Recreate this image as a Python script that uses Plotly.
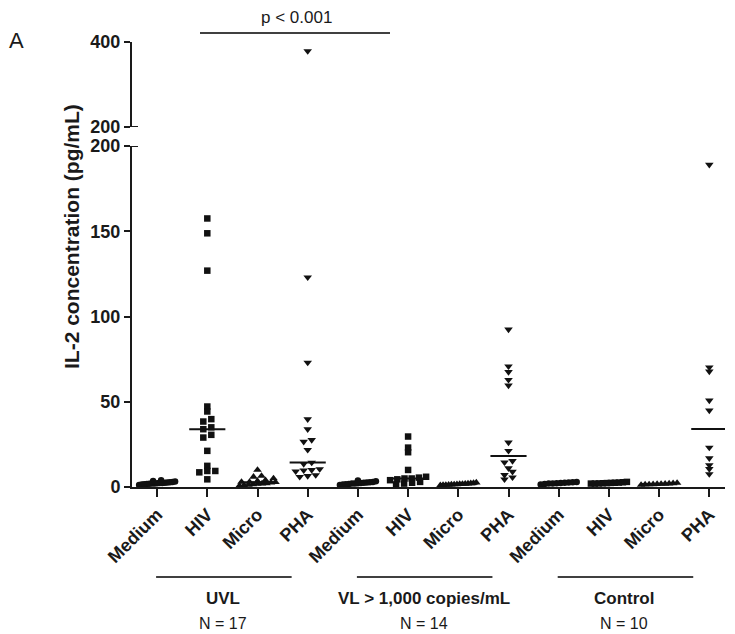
import numpy as np
import plotly.graph_objects as go

# ---------------- data ----------------
categories = ["Medium", "HIV", "Micro", "PHA"] * 3
groups = ["UVL", "VL > 1,000 copies/mL", "Control"]
group_n = ["N = 17", "N = 14", "N = 10"]

uvl_medium = [1.2, 1.5, 1.8, 2.0, 2.1, 2.3, 2.5, 2.6, 2.8, 3.0, 1.6, 1.9, 2.2, 2.4, 3.2, 3.5, 4.0]
uvl_hiv = [157.5, 148.8, 126.9, 47.2, 44.3, 39.8, 38.4, 35.0, 33.9, 30.6, 29.0, 21.2, 12.4, 9.4, 9.4, 8.6, 4.5]
uvl_micro = [10.0, 6.5, 6.0, 5.0, 4.0, 3.5, 3.0, 3.0, 2.8, 2.5, 2.2, 2.0, 1.8, 1.5, 1.2, 1.0, 0.8]
uvl_pha = [378.8, 123.0, 73.0, 39.8, 33.9, 27.6, 26.6, 21.8, 14.3, 13.5, 10.5, 10.0, 9.8, 9.2, 7.0, 6.5, 6.0]

vl_medium = [1.2, 1.5, 1.8, 2.0, 2.2, 2.4, 2.6, 2.8, 3.0, 3.3, 1.6, 2.1, 2.5, 3.8]
vl_hiv = [29.6, 23.1, 20.4, 10.0, 6.0, 5.5, 5.0, 5.0, 4.5, 4.0, 3.0, 2.5, 2.0, 1.5]
vl_micro = [1.0, 1.2, 1.4, 1.5, 1.6, 1.8, 2.0, 2.2, 1.3, 1.7, 1.9, 2.4, 1.1, 2.6]
vl_pha = [92.4, 70.8, 67.5, 62.9, 59.6, 26.1, 21.2, 15.3, 14.5, 11.0, 9.0, 7.1, 5.7, 4.5]

ctrl_medium = [1.5, 1.8, 2.0, 2.2, 2.4, 2.6, 2.8, 3.0, 2.0, 2.5]
ctrl_hiv = [2.0, 2.0, 2.2, 2.4, 2.6, 2.8, 3.0, 2.5, 2.3, 2.1]
ctrl_micro = [1.2, 1.5, 1.7, 1.9, 2.0, 2.2, 1.8, 1.6, 2.4, 1.4]
ctrl_pha = [189.0, 70.2, 67.8, 50.8, 44.9, 23.1, 16.9, 12.9, 10.6, 7.6]

series = [uvl_medium, uvl_hiv, uvl_micro, uvl_pha,
          vl_medium, vl_hiv, vl_micro, vl_pha,
          ctrl_medium, ctrl_hiv, ctrl_micro, ctrl_pha]

lower_ticks = [0, 50, 100, 150, 200]
upper_ticks = [200, 400]
BREAK = 200
p_text = "p < 0.001"

# ---------------- geometry helpers ----------------
OFF = 8                      # default page body margin
W, H = 735 - OFF, 634 - OFF
ML = 132 - OFF
MT = 42 - OFF
PW = 725 - 132
PH = 487 - 42
MR = W - ML - PW
MB = H - MT - PH
X0 = -0.5
px_per_x = 50.2
X1 = X0 + PW / px_per_x
lower_dom = [0, 341 / PH]
upper_dom = [360 / PH, 1]
px_per_y_low = lower_dom[1] * PH / 200.0
px_per_y_up = (upper_dom[1] - upper_dom[0]) * PH / 200.0

symbols = {"Medium": "circle", "HIV": "square", "Micro": "triangle-up", "PHA": "triangle-down"}
msize = {"Medium": 6.5, "HIV": 6.5, "Micro": 7.5, "PHA": 7.5}

FONT = "Liberation Sans, Arial, sans-serif"
INK = "#1a1a1a"


def to_px(v):
    if v <= BREAK:
        return v * px_per_y_low
    return upper_dom[0] * PH + (v - BREAK) * px_per_y_up


def swarm(vals, bin_h=3.6, gap=8.0, max_w=36.0):
    """Column-scatter layout: points of similar height are spread side by side."""
    order = np.argsort(vals)
    ypx = np.array([to_px(v) for v in vals])
    offs = np.zeros(len(vals))
    bins, cur = [], [order[0]]
    for i in order[1:]:
        if ypx[i] - ypx[cur[0]] <= bin_h:
            cur.append(i)
        else:
            bins.append(cur)
            cur = [i]
    bins.append(cur)
    for b in bins:
        n = len(b)
        if n == 1:
            continue
        sp = min(gap, max_w / (n - 1))
        for j, i in enumerate(b):
            offs[i] = (j - (n - 1) / 2) * sp
    return offs / px_per_x


fig = go.Figure()

med_x, med_y = [], []
for idx, vals in enumerate(series):
    vals = np.array(vals, dtype=float)
    cat = categories[idx]
    xs = idx + swarm(vals)
    low = vals <= BREAK
    mk = dict(symbol=symbols[cat], size=msize[cat], color="#111111", line=dict(width=0))
    fig.add_trace(go.Scatter(x=xs[low], y=vals[low], mode="markers", marker=mk,
                             cliponaxis=False, xaxis="x", yaxis="y", hoverinfo="y"))
    if (~low).any():
        fig.add_trace(go.Scatter(x=xs[~low], y=vals[~low], mode="markers", marker=mk,
                                 cliponaxis=False, xaxis="x", yaxis="y2", hoverinfo="y"))
    m = float(np.median(vals))
    med_x += [idx - 0.36, idx + 0.36, None]
    med_y += [m, m, None]

fig.add_trace(go.Scatter(x=med_x, y=med_y, mode="lines", line=dict(color="#111111", width=2),
                         cliponaxis=False, xaxis="x", yaxis="y", hoverinfo="skip"))

bold = dict(family=FONT, size=18, color=INK, weight="bold")
axis_common = dict(showline=True, linewidth=2, linecolor=INK, ticks="outside",
                   tickwidth=2, tickcolor=INK, showgrid=False, zeroline=False)

fig.update_layout(
    width=W, height=H,
    margin=dict(l=ML, r=MR, t=MT, b=MB, pad=0),
    plot_bgcolor="white", paper_bgcolor="white",
    showlegend=False,
    xaxis=dict(range=[X0, X1], tickvals=list(range(12)), ticktext=categories,
               tickangle=-45, ticklen=8, tickfont=bold, anchor="y", **axis_common),
    yaxis=dict(domain=lower_dom, range=[0, 200], tickvals=lower_ticks, ticklen=6,
               tickfont=bold, anchor="x", **axis_common),
    yaxis2=dict(domain=upper_dom, range=[200, 400], tickvals=upper_ticks, ticklen=6,
                tickfont=bold, anchor="x", **axis_common),
)

# break marks (ticks extending to the right at the break)
tick_frac = 6 / PW
for yref in ["y", "y2"]:
    fig.add_shape(type="line", xref="paper", yref=yref, x0=0, x1=tick_frac, y0=BREAK, y1=BREAK,
                  line=dict(color=INK, width=2))


def ypaper(py):
    return (487 - py) / PH


def xpaper(px):
    return (px - 132) / PW


def note(text, x, y, xref="paper", font=None, angle=0):
    fig.add_annotation(text=text, xref=xref, yref="paper", x=x, y=y, showarrow=False,
                       xanchor="center", yanchor="middle", textangle=angle, font=font)


# p-value bracket
fig.add_shape(type="line", xref="paper", yref="paper", x0=xpaper(200), x1=xpaper(390),
              y0=ypaper(33), y1=ypaper(33), line=dict(color="#000000", width=1.3))
note(p_text, xpaper(296), ypaper(18), font=dict(family=FONT, size=17, color=INK))

# group lines and labels
for g in range(3):
    s = 4 * g
    fig.add_shape(type="line", xref="x", yref="paper", x0=s - 0.02, x1=s + 2.68,
                  y0=ypaper(577), y1=ypaper(577), line=dict(color="#000000", width=1.3))
    note(groups[g], s + 1.31, ypaper(598), xref="x", font=dict(bold, size=17))
    note(group_n[g], s + 1.31, ypaper(623), xref="x", font=dict(family=FONT, size=16, color=INK))

# y title and panel letter
note("IL-2 concentration (pg/mL)", xpaper(72), ypaper(237), font=dict(bold, size=21), angle=-90)
note("A", xpaper(17), ypaper(40), font=dict(family=FONT, size=22, color=INK))

fig.write_html("out.html")
